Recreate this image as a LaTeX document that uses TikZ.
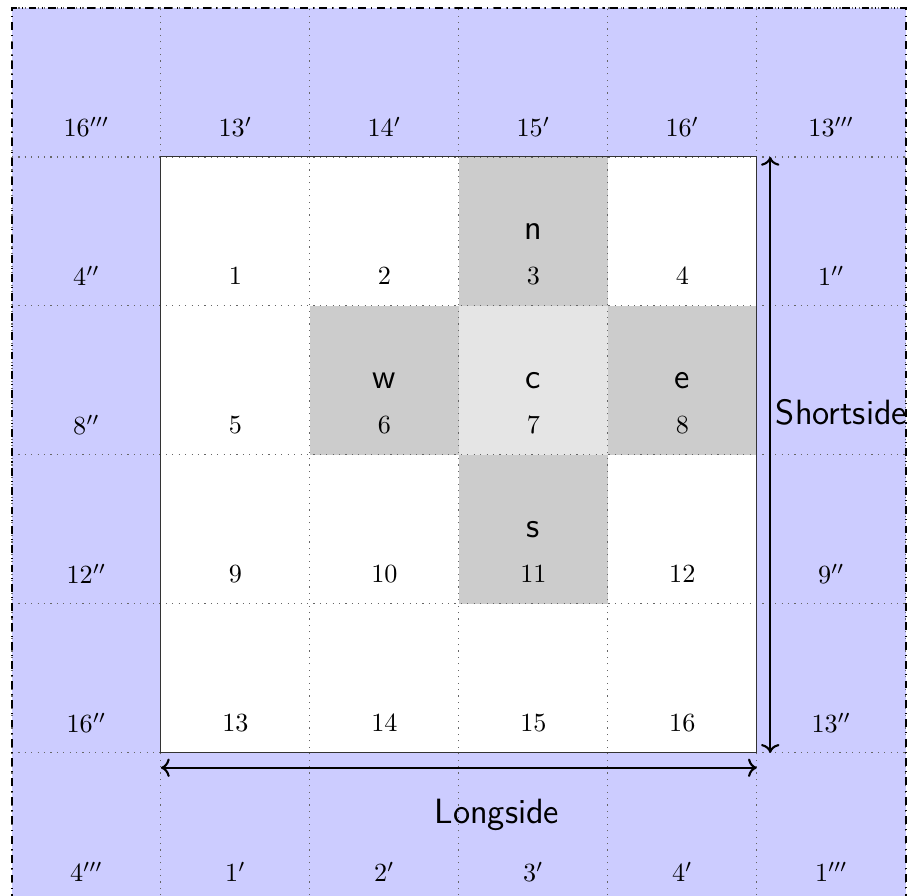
\documentclass[tikz,border=0pt]{standalone}
\usetikzlibrary{arrows.meta, positioning, calc}
\tikzset{
  halo/.style={fill=blue!20},
  nbr/.style={fill=gray!40},
  ctr/.style={fill=gray!20},
  gridline/.style={draw=gray!80!black, dotted, line width=0.45pt},
  frame/.style={draw=black, dashdotted, line width=0.6pt},
  dirlab/.style={font=\fontsize{13.4}{16}\selectfont\sffamily},
  idx/.style={font=\normalsize},
  dim/.style={<->, thick}
}
\begin{document}
\begin{tikzpicture}
  \useasboundingbox (-0.16,0.08) rectangle (12.03,12.107);
  % ghost ring and domain
  \fill[halo] (0,0) rectangle (12,12);
  \fill[white] (2,2) rectangle (10,10);
  % five-point stencil
  \fill[nbr] (6,8) rectangle (8,10);
  \fill[nbr] (4,6) rectangle (6,8);
  \fill[nbr] (8,6) rectangle (10,8);
  \fill[nbr] (6,4) rectangle (8,6);
  \fill[ctr] (6,6) rectangle (8,8);
  \draw[gridline] (0,0) grid[step=2] (12,12);
  \draw[black!80] (2,2) rectangle (10,10);
  \draw[frame] (0,0) rectangle (12,12);

  \node[dirlab] (n) at (7,9) {n};
  \node[dirlab] (w) at (5,7) {w};
  \node[dirlab] (c) at (7,7) {c};
  \node[dirlab] (e) at (9,7) {e};
  \node[dirlab] (s) at (7,5) {s};

  % inner cell numbers
  \foreach \r in {0,...,3} {
    \foreach \c in {0,...,3} {
      \pgfmathtruncatemacro{\k}{4*\r+\c+1}
      \node[idx] (cell\k) at ({3+2*\c},{8.4-2*\r}) {$\k$};
    }
  }
  % ghost cell numbers
  \foreach \x/\y/\lab [count=\i] in {
    1/10.4/16''', 3/10.4/13', 5/10.4/14', 7/10.4/15', 9/10.4/16', 11/10.4/13''',
    1/8.4/4'', 1/6.4/8'', 1/4.4/12'', 1/2.4/16'',
    11/8.4/1'', 11/4.4/9'', 11/2.4/13'',
    1/0.4/4''', 3/0.4/1', 5/0.4/2', 7/0.4/3', 9/0.4/4', 11/0.4/1'''} {
    \node[idx] (ghost\i) at (\x,\y) {$\lab$};
  }

  \coordinate (stop) at (10.18,10);
  \coordinate (sbot) at (10.18,2);
  \coordinate (lleft) at (2,1.8);
  \coordinate (lright) at (10,1.8);
  \draw[dim] (stop) -- (sbot);
  \draw[dim] (lleft) -- (lright);
  \node[dirlab, anchor=west, inner sep=0pt] (short) at (10.25,6.57) {Shortside};
  \node[dirlab] (long) at (6.51,1.16) {Longside};
\end{tikzpicture}
\end{document}
